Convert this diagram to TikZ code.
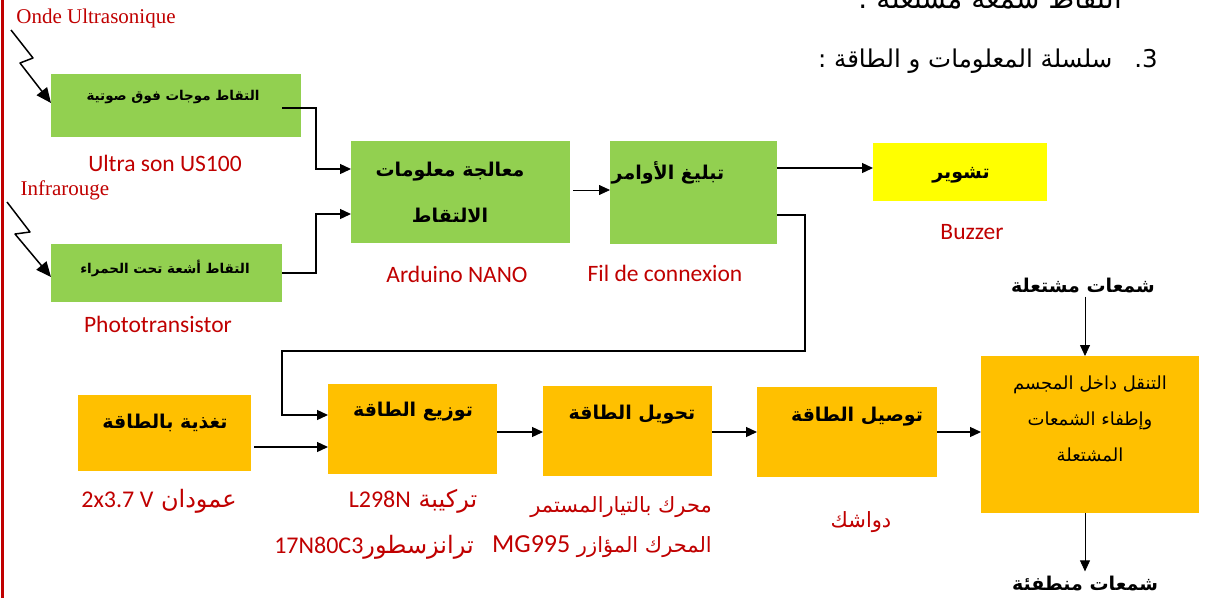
\documentclass[tikz,border=0pt]{standalone}
\usepackage{fontspec}
\usetikzlibrary{arrows.meta}
\TeXXeTstate=1
\newfontfamily\arabicfont[Script=Arabic]{DejaVu Sans}
\newfontfamily\labfont{Carlito}
\newfontfamily\serfont{Liberation Serif}
\definecolor{gbox}{HTML}{92D050}
\definecolor{obox}{HTML}{FFC000}
\definecolor{ybox}{HTML}{FFFF00}
\definecolor{redtxt}{HTML}{C00000}
\begin{document}
\begin{tikzpicture}[x=1pt,y=-1pt,
  gblock/.style={fill=gbox,draw=none,inner sep=0pt,outer sep=0pt},
  oblock/.style={fill=obox,draw=none,inner sep=0pt,outer sep=0pt},
  yblock/.style={fill=ybox,draw=none,inner sep=0pt,outer sep=0pt},
  btxt/.style={inner sep=0pt,font=\arabicfont\bfseries\fontsize{#1}{#1}\selectfont},
  rtxt/.style={inner sep=0pt,text=redtxt,font=\labfont\fontsize{23.5}{26}\selectfont},
  ratxt/.style={inner sep=0pt,text=redtxt,font=\arabicfont\fontsize{#1}{#1}\selectfont},
  stxt/.style={inner sep=0pt,text=redtxt,font=\serfont\fontsize{21}{24}\selectfont},
  conn/.style={line width=1.3pt,-{Triangle[length=11pt,width=10pt]}},
  thinconn/.style={line width=0.8pt,-{Triangle[length=11pt,width=10pt]}},
  zig/.style={line width=1.5pt,line join=round,-{Triangle[length=15pt,width=13pt]}}
]
\useasboundingbox (0,0) rectangle (1205,598);
\fill[white] (0,0) rectangle (1205,598);
\fill[redtxt] (0.5,0) rectangle (3.5,598);

% header texts
\begin{scope}
\clip (0,0) rectangle (1205,598);
\node[anchor=base east,inner sep=0pt,font=\arabicfont\fontsize{28}{30}\selectfont] (toptxt) at (1122,8) {\beginR التقاط شمعة مشتعلة .\endR};
\end{scope}
\node[anchor=east,inner sep=0pt,font=\arabicfont\fontsize{24.5}{28}\selectfont] (hdr) at (1158,61) {\beginR 3.\hspace{22pt}سلسلة المعلومات و الطاقة :\endR};

% information chain
\node[gblock,minimum width=250pt,minimum height=63pt] (b1) at (176,105.5) {};
\node[btxt=13.5] (t1) at (173,97) {\beginR التقاط موجات فوق صوتية\endR};
\node[rtxt] (l1) at (165,163) {Ultra son US100};
\node[stxt] (w1) at (96,18) {Onde Ultrasonique};

\node[gblock,minimum width=231pt,minimum height=58pt] (b2) at (166.5,273) {};
\node[btxt=13.5] (t2) at (165,268) {\beginR التقاط أشعة تحت الحمراء\endR};
\node[rtxt] (l2) at (158,324) {Phototransistor};
\node[stxt] (w2) at (65,190) {Infrarouge};

\node[gblock,minimum width=219pt,minimum height=102pt] (b3) at (460.5,192) {};
\node[btxt=19] (t3a) at (450,172) {\beginR معالجة معلومات\endR};
\node[btxt=19] (t3b) at (450,215) {\beginR الالتقاط\endR};
\node[rtxt] (l3) at (457,274) {Arduino NANO};

\node[gblock,minimum width=167pt,minimum height=103pt] (b4) at (693.5,192.5) {};
\node[btxt=19] (t4) at (668,173) {\beginR تبليغ الأوامر\endR};
\node[rtxt] (l4) at (665,273) {Fil de connexion};

\node[yblock,minimum width=174pt,minimum height=58pt] (b5) at (960,172) {};
\node[btxt=19] (t5) at (961,175) {\beginR تشوير\endR};
\node[rtxt] (l5) at (972,232) {Buzzer};

% energy chain
\node[oblock,minimum width=173pt,minimum height=76pt] (f1) at (164.5,433) {};
\node[btxt=19] (u1) at (165,423) {\beginR تغذية بالطاقة\endR};
\node[ratxt=24] (m1) at (159,501) {\beginR عمودان \beginL{\labfont 2x3.7 V}\endL\endR};

\node[oblock,minimum width=169pt,minimum height=90pt] (f2) at (412.5,429) {};
\node[btxt=19] (u2) at (413,412) {\beginR توزيع الطاقة\endR};
\node[ratxt=24] (m2a) at (413,501) {\beginR تركيبة \beginL{\labfont L298N}\endL\endR};
\node[ratxt=24] (m2b) at (374,547) {\beginR ترانزسطور\beginL{\labfont 17N80C3}\endL\endR};

\node[oblock,minimum width=169pt,minimum height=90pt] (f3) at (627.5,431) {};
\node[btxt=19] (u3) at (632,415) {\beginR تحويل الطاقة\endR};
\node[ratxt=21,anchor=east] (m3a) at (712,507) {\beginR محرك بالتيارالمستمر\endR};
\node[ratxt=21,anchor=east] (m3b) at (712,547) {\beginR المحرك المؤازر \beginL{\labfont\fontsize{26}{26}\selectfont MG995}\endL\endR};

\node[oblock,minimum width=180pt,minimum height=90pt] (f4) at (847,432) {};
\node[btxt=19] (u4) at (857,417) {\beginR توصيل الطاقة\endR};
\node[ratxt=21] (m4) at (861,522) {\beginR دواشك\endR};

\node[oblock,minimum width=218pt,minimum height=157pt] (f5) at (1090,434.5) {};
\node[inner sep=0pt,align=center,font=\arabicfont\fontsize{18}{36}\selectfont] (u5) at (1090,419) {\beginR التنقل داخل المجسم\endR\\\beginR وإطفاء الشمعات\endR\\\beginR المشتعلة\endR};

\node[btxt=19,inner sep=4pt] (n1) at (1083,285) {\beginR شمعات مشتعلة\endR};
\node[btxt=19,inner sep=4pt] (n2) at (1085,583) {\beginR شمعات منطفئة\endR};

% connectors
\coordinate (s1) at (282,108);
\coordinate (z1) at (11,30);
\coordinate (z2) at (7,202);
\draw[zig] (z1) -- (33,58) -- (20,63) -- ([yshift=2.5pt]b1.west);
\draw[zig] (z2) -- (30,232) -- (15,234) -- ([yshift=-4pt]b2.west);
\draw[conn] (s1) -- (316,108) |- ([yshift=23pt]b3.west);
\draw[conn] (b2.east) -- (316,273) |- ([yshift=-22pt]b3.west);
\draw[thinconn] ([xshift=3pt,yshift=2pt]b3.east) -- ([yshift=2.5pt]b4.west);
\draw[conn] ([yshift=24.5pt]b4.east) -- ([yshift=4pt]b5.west);
\draw[conn] ([yshift=-22.5pt]b4.east) -- (805,215) -- (805,351) -- (282,351) |- ([yshift=14pt]f2.west);
\draw[conn] ([xshift=3pt,yshift=-14pt]f1.east) -- ([yshift=-18pt]f2.west);
\draw[conn] ([yshift=-3pt]f2.east) -- ([yshift=-1pt]f3.west);
\draw[conn] ([yshift=-1pt]f3.east) -- (f4.west);
\draw[conn] (f4.east) -- ([yshift=2.5pt]f5.west);
\draw[thinconn] ([xshift=2pt]n1.south) -- ([xshift=-5pt]f5.north);
\draw[thinconn] ([xshift=-5pt]f5.south) -- (n2.north);
\end{tikzpicture}
\end{document}
